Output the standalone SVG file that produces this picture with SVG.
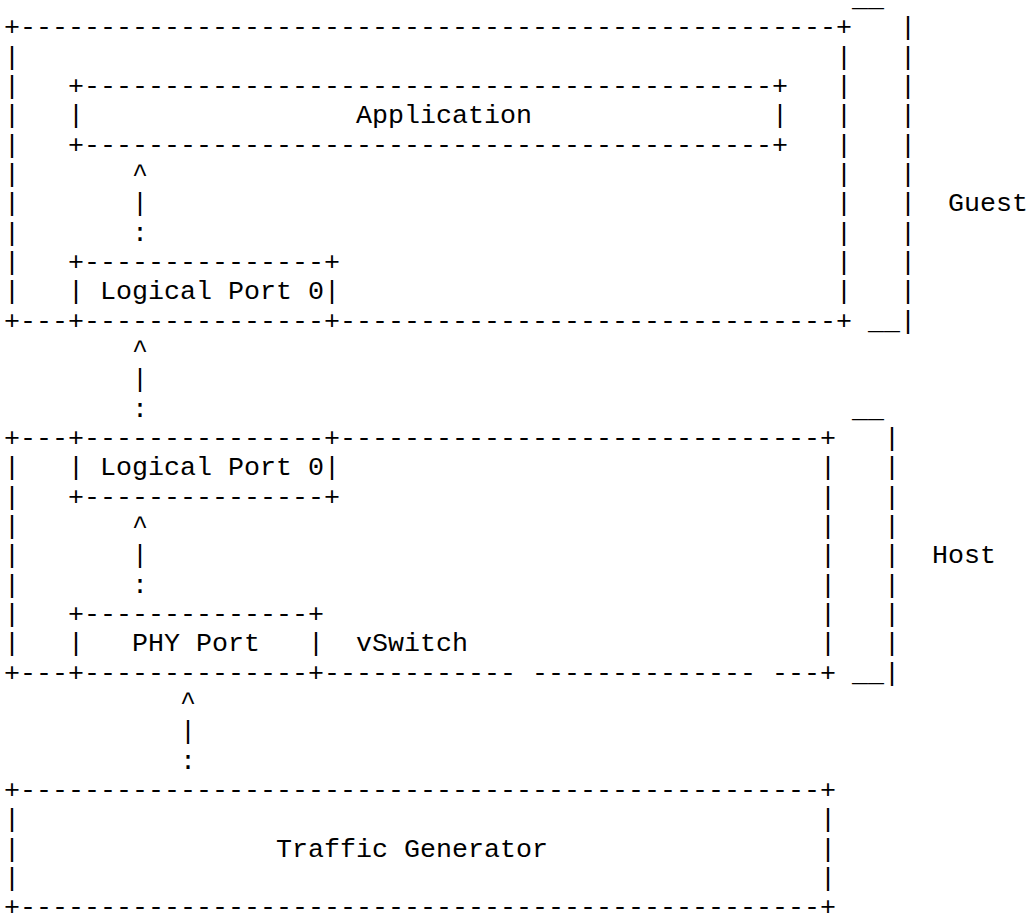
<svg xmlns="http://www.w3.org/2000/svg" width="1031" height="914" viewBox="0 0 1031 914" xml:space="preserve">
<style>
.t { font-family: "Liberation Mono", "Courier New", monospace; font-size: 26.667px; fill: #000; white-space: pre; }
</style>
<rect x="0" y="0" width="1031" height="914" fill="#fff"/>
<g id="guest">
<text class="t" x="852" y="6">__</text>
<text class="t" x="4" y="35.33" textLength="848">+---------------------------------------------------+</text>
<text class="t" x="4"><tspan x="4" y="64.67">|</tspan><tspan x="4" y="94">|</tspan><tspan x="4" y="123.33">|</tspan><tspan x="4" y="152.67">|</tspan><tspan x="4" y="182">|</tspan><tspan x="4" y="211.33">|</tspan><tspan x="4" y="240.67">|</tspan><tspan x="4" y="270">|</tspan><tspan x="4" y="299.33">|</tspan></text>
<text class="t" x="836"><tspan x="836" y="64.67">|</tspan><tspan x="836" y="94">|</tspan><tspan x="836" y="123.33">|</tspan><tspan x="836" y="152.67">|</tspan><tspan x="836" y="182">|</tspan><tspan x="836" y="211.33">|</tspan><tspan x="836" y="240.67">|</tspan><tspan x="836" y="270">|</tspan><tspan x="836" y="299.33">|</tspan></text>
<text class="t" x="900"><tspan x="900" y="35.33">|</tspan><tspan x="900" y="64.67">|</tspan><tspan x="900" y="94">|</tspan><tspan x="900" y="123.33">|</tspan><tspan x="900" y="152.67">|</tspan><tspan x="900" y="182">|</tspan><tspan x="900" y="211.33">|</tspan><tspan x="900" y="240.67">|</tspan><tspan x="900" y="270">|</tspan><tspan x="900" y="299.33">|</tspan><tspan x="900" y="328.67">|</tspan></text>
<text class="t" x="4" y="328.67" textLength="848">+---+---------------+-------------------------------+</text>
<text class="t" x="868" y="328.67">__</text>
<text class="t" x="948" y="211.33">Guest</text>
</g>
<g id="application">
<text class="t" x="68" y="94" textLength="720">+-------------------------------------------+</text>
<text class="t" x="68" y="123.33">|</text>
<text class="t" x="356" y="123.33">Application</text>
<text class="t" x="772" y="123.33">|</text>
<text class="t" x="68" y="152.67" textLength="720">+-------------------------------------------+</text>
</g>
<g id="guest-logical-port">
<text class="t" x="68" y="270" textLength="272">+---------------+</text>
<text class="t" x="68" y="299.33">|</text>
<text class="t" x="100" y="299.33">Logical Port 0</text>
<text class="t" x="324" y="299.33">|</text>
</g>
<g id="host">
<text class="t" x="852" y="416.67">__</text>
<text class="t" x="4" y="446" textLength="832">+---+---------------+------------------------------+</text>
<text class="t" x="4"><tspan x="4" y="475.33">|</tspan><tspan x="4" y="504.67">|</tspan><tspan x="4" y="534">|</tspan><tspan x="4" y="563.33">|</tspan><tspan x="4" y="592.67">|</tspan><tspan x="4" y="622">|</tspan><tspan x="4" y="651.33">|</tspan></text>
<text class="t" x="820"><tspan x="820" y="475.33">|</tspan><tspan x="820" y="504.67">|</tspan><tspan x="820" y="534">|</tspan><tspan x="820" y="563.33">|</tspan><tspan x="820" y="592.67">|</tspan><tspan x="820" y="622">|</tspan><tspan x="820" y="651.33">|</tspan></text>
<text class="t" x="884"><tspan x="884" y="446">|</tspan><tspan x="884" y="475.33">|</tspan><tspan x="884" y="504.67">|</tspan><tspan x="884" y="534">|</tspan><tspan x="884" y="563.33">|</tspan><tspan x="884" y="592.67">|</tspan><tspan x="884" y="622">|</tspan><tspan x="884" y="651.33">|</tspan><tspan x="884" y="680.67">|</tspan></text>
<text class="t" x="4" y="680.67" textLength="832">+---+--------------+------------ -------------- ---+</text>
<text class="t" x="852" y="680.67">__</text>
<text class="t" x="356" y="651.33">vSwitch</text>
<text class="t" x="932" y="563.33">Host</text>
</g>
<g id="host-logical-port">
<text class="t" x="68" y="475.33">|</text>
<text class="t" x="100" y="475.33">Logical Port 0</text>
<text class="t" x="324" y="475.33">|</text>
<text class="t" x="68" y="504.67" textLength="272">+---------------+</text>
</g>
<g id="phy-port">
<text class="t" x="68" y="622" textLength="256">+--------------+</text>
<text class="t" x="68" y="651.33">|</text>
<text class="t" x="132" y="651.33">PHY Port</text>
<text class="t" x="308" y="651.33">|</text>
</g>
<g id="traffic-generator">
<text class="t" x="4" y="798" textLength="832">+--------------------------------------------------+</text>
<text class="t" x="4"><tspan x="4" y="827.33">|</tspan><tspan x="4" y="856.67">|</tspan><tspan x="4" y="886">|</tspan></text>
<text class="t" x="820"><tspan x="820" y="827.33">|</tspan><tspan x="820" y="856.67">|</tspan><tspan x="820" y="886">|</tspan></text>
<text class="t" x="276" y="856.67">Traffic Generator</text>
<text class="t" x="4" y="915.33" textLength="832">+--------------------------------------------------+</text>
</g>
<g id="connectors">
<text class="t" x="132"><tspan x="132" y="182">^</tspan><tspan x="132" y="211.33">|</tspan><tspan x="132" y="240.67">:</tspan></text>
<text class="t" x="132"><tspan x="132" y="358">^</tspan><tspan x="132" y="387.33">|</tspan><tspan x="132" y="416.67">:</tspan></text>
<text class="t" x="132"><tspan x="132" y="534">^</tspan><tspan x="132" y="563.33">|</tspan><tspan x="132" y="592.67">:</tspan></text>
<text class="t" x="180"><tspan x="180" y="710">^</tspan><tspan x="180" y="739.33">|</tspan><tspan x="180" y="768.67">:</tspan></text>
</g>
</svg>
